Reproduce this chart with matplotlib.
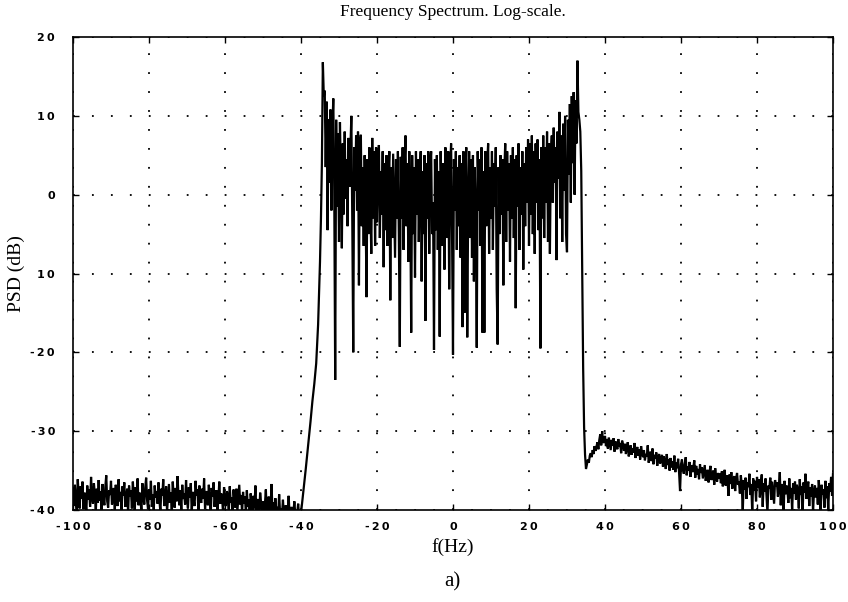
import numpy as np
import matplotlib
matplotlib.use("Agg")
import matplotlib.pyplot as plt

# ---------------- data (dB values) ----------------
STEP = 0.25

floor_left_start = -100.0
floor_left = [
    -37.2,-39.5,-36.8,-38.9,-40.3,-36.1,-38.2,-39.8,-37.0,-38.6,-36.4,-39.9,-37.8,-38.3,-40.5,-36.9,-38.7,-37.4,-39.6,-35.8,
    -38.4,-39.2,-36.6,-38.0,-40.2,-37.3,-39.1,-36.2,-38.8,-37.6,-40.4,-36.7,-38.5,-39.4,-37.1,-35.6,-38.9,-39.7,-37.5,-38.1,
    -36.3,-39.3,-38.6,-37.2,-40.1,-36.8,-38.4,-39.5,-36.1,-38.9,-37.7,-40.3,-37.0,-38.2,-36.5,-39.6,-38.7,-37.3,-40.5,-36.9,
    -38.3,-37.5,-39.8,-36.4,-38.6,-40.2,-37.1,-38.9,-36.0,-39.4,-37.8,-38.5,-40.4,-36.6,-38.1,-39.3,-37.2,-35.9,-38.8,-39.9,
    -37.4,-38.7,-36.3,-39.6,-38.0,-40.1,-36.9,-38.4,-37.6,-39.2,-36.5,-38.8,-40.3,-37.3,-38.2,-36.1,-39.5,-38.6,-37.0,-40.2,
    -38.5,-36.7,-39.1,-37.8,-40.4,-36.4,-38.3,-39.7,-37.2,-38.9,-35.7,-38.1,-39.4,-37.5,-40.0,-36.8,-38.6,-37.9,-39.3,-36.2,
    -38.7,-39.8,-37.1,-38.4,-36.6,-40.3,-37.7,-38.8,-39.5,-36.3,-38.2,-37.4,-40.2,-36.9,-38.5,-39.1,-37.3,-38.6,-36.0,-39.9,
    -38.1,-37.6,-39.4,-36.8,-38.9,-40.4,-37.2,-38.3,-36.5,-39.6,-38.0,-37.5,-40.1,-38.7,-36.4,-39.2,-37.9,-38.6,-40.5,-37.1,
    -38.8,-39.5,-37.6,-38.2,-40.3,-37.0,-39.1,-38.4,-40.6,-37.4,-38.9,-39.7,-37.3,-40.2,-38.5,-36.8,-39.3,-38.1,-40.4,-37.7,
    -39.2,-38.3,-40.5,-37.5,-39.6,-38.7,-40.8,-37.9,-39.0,-40.3,-38.2,-39.8,-36.9,-40.4,-38.6,-39.4,-40.7,-37.8,-39.1,-40.2,
    -38.9,-40.6,-39.3,-37.4,-40.5,-39.7,-38.3,-40.8,-39.5,-36.7,-40.4,-39.0,-40.9,-38.5,-40.3,-39.6,-40.7,-38.0,-40.5,-39.8,
    -40.6,-38.7,-40.8,-40.2,-39.4,-40.9,-40.4,-38.2,-40.7,-40.5,-39.6,-40.8,-40.3,-38.9,-40.6,-40.9,-40.4,-39.2,-40.7,-40.5,
    -40.2,
]

edge_left_f = [-39.75,-39.5,-39.25,-39.0,-38.75,-38.5,-38.25,-38.0,-37.5,-37.0,-36.5,-36.0,-35.5,-35.0,-34.75]
edge_left_db = [-39.3,-38.2,-37.0,-35.9,-34.8,-33.6,-32.4,-31.3,-28.8,-26.2,-24.0,-21.4,-16.5,-8.5,-3.0]

band_start = -34.5
band = [
    4.0,16.8,12.5,13.2,3.5,11.8,-4.5,9.6,1.5,10.8,-2.0,8.4,12.2,0.5,-23.5,9.5,-1.5,7.8,-6.0,9.2,
    2.0,-6.8,6.5,-2.5,8.0,-0.5,4.5,-4.0,7.2,1.0,5.8,10.0,-3.5,-20.0,6.0,0.5,7.5,-2.0,8.0,-11.5,
    6.5,7.6,-4.0,3.5,-6.5,5.0,-2.0,-13.0,4.5,-5.0,6.0,-1.5,-7.5,7.2,-3.0,5.5,-6.5,6.0,-3.5,4.0,
    6.3,-5.5,3.0,-2.5,5.5,-9.2,4.0,-4.5,5.0,-6.5,2.5,5.5,-13.4,3.5,-5.5,5.2,-1.5,-8.0,4.5,-3.0,
    5.5,-5.0,-19.3,4.8,-3.0,6.0,-7.0,3.5,7.5,-4.0,4.0,-8.5,5.5,-1.5,-17.5,5.0,-5.0,3.5,-10.5,5.5,
    -2.5,4.5,-6.0,2.0,5.5,-11.0,3.0,-5.0,5.0,-16.0,4.0,-3.0,5.5,-7.5,3.5,5.5,-5.0,-1.0,-19.7,4.5,
    -4.5,5.0,-7.0,3.0,-18.0,5.5,-2.5,-6.5,4.0,-9.5,6.0,-2.0,-5.5,5.5,-12.0,3.0,6.5,-5.0,-20.3,4.5,
    -2.0,5.5,-7.0,3.5,-4.0,5.0,-8.0,4.0,-16.8,5.5,-15.0,3.0,6.0,-18.1,-1.0,5.5,-5.5,4.5,-8.0,5.0,
    -11.0,3.5,-2.5,-19.4,5.5,-2.0,4.5,-6.5,6.0,-17.5,3.0,-17.5,5.5,-4.0,4.0,6.5,-7.5,3.5,-3.0,5.5,
    -7.0,4.0,-1.5,6.0,-12.0,-19.0,3.5,-5.0,5.0,-2.5,4.5,-11.5,3.0,6.5,-6.0,5.5,-2.0,4.0,-8.5,5.0,
    -3.0,6.0,-5.5,4.5,-14.4,5.0,-1.5,6.5,-7.0,3.5,-2.5,5.5,-9.5,4.0,-4.0,6.0,-1.0,7.0,-6.5,6.5,
    -2.5,7.5,-5.0,5.5,-7.5,6.5,-1.0,7.0,-4.5,4.5,-19.5,6.0,-3.0,7.5,-5.5,6.0,-1.0,8.0,-6.0,6.5,
    -7.5,5.0,7.5,-1.0,8.5,1.5,6.0,-8.3,8.0,2.0,10.5,-3.0,7.5,-6.0,9.0,0.5,10.0,-5.0,-7.3,9.5,
    2.5,11.5,-1.0,12.5,4.0,13.0,0.0,12.0,6.5,17.0,10.5,9.5,8.0,
]

edge_right_f = [33.75,34.0,34.25,34.5,34.75,35.0]
edge_right_db = [3.0,-10.0,-22.0,-29.5,-33.0,-34.8]

tail_start = 35.25
tail = [
    -34.2,-33.6,-34.0,-33.1,-32.8,-33.3,-32.4,-32.9,-31.9,-32.5,-32.0,-31.4,-32.3,-31.1,-30.4,-31.8,-30.0,-31.5,-31.2,-30.6,
    -31.9,-31.0,-32.2,-30.8,-31.6,-32.4,-31.1,-31.8,-30.9,-32.6,-31.3,-31.9,-32.3,-31.0,-32.0,-31.5,-32.8,-31.2,-31.7,-32.5,
    -31.6,-32.9,-32.1,-31.4,-33.2,-32.4,-31.8,-33.0,-32.2,-32.7,-31.5,-33.4,-32.6,-32.0,-33.1,-32.3,-33.6,-31.9,-32.8,-33.3,
    -32.4,-33.7,-32.9,-33.2,-31.8,-34.0,-33.1,-32.6,-33.8,-32.2,-34.2,-33.0,-33.5,-32.7,-34.4,-33.3,-32.9,-34.1,-33.6,-33.0,
    -34.5,-33.2,-33.9,-34.8,-32.9,-34.3,-33.6,-35.0,-33.4,-34.6,-33.8,-34.9,-33.1,-35.2,-34.0,-34.7,-33.5,-35.3,-37.6,-34.2,
    -33.6,-34.9,-35.4,-34.1,-33.3,-35.6,-34.5,-35.0,-33.9,-35.8,-34.3,-35.2,-34.6,-33.7,-35.9,-34.4,-35.5,-34.8,-36.1,-34.2,
    -35.3,-34.6,-36.0,-35.1,-34.3,-36.3,-35.5,-34.9,-36.5,-35.2,-34.4,-36.2,-35.7,-35.0,-36.8,-34.7,-35.9,-36.4,-35.3,-36.0,
    -35.4,-36.6,-35.1,-37.0,-35.8,-34.9,-36.9,-35.6,-36.3,-38.2,-35.5,-36.7,-35.2,-37.3,-36.1,-35.7,-37.6,-36.0,-35.3,-36.8,
    -36.4,-37.9,-35.6,-36.9,-40.3,-36.2,-37.4,-35.9,-38.6,-36.5,-37.1,-35.4,-38.1,-36.7,-40.5,-36.0,-37.5,-36.3,-38.9,-35.8,
    -37.2,-36.1,-38.4,-36.8,-35.5,-39.6,-36.6,-37.7,-36.0,-38.2,-40.4,-36.9,-37.3,-35.9,-38.7,-36.4,-37.8,-39.2,-36.2,-37.0,
    -36.5,-38.3,-37.1,-35.2,-39.4,-36.7,-37.6,-40.6,-36.3,-38.0,-36.9,-37.4,-39.1,-36.0,-38.5,-37.2,-40.2,-36.6,-37.9,-36.4,
    -38.7,-36.8,-37.5,-39.8,-36.1,-38.1,-37.0,-40.5,-36.5,-37.8,-35.4,-38.6,-37.3,-36.4,-39.5,-37.1,-38.3,-36.7,-40.3,-37.6,
    -36.9,-38.4,-37.2,-39.3,-36.2,-37.9,-40.4,-36.8,-38.0,-37.4,-39.7,-36.3,-38.5,-37.0,-40.2,-36.6,-37.7,-35.8,-38.2,-35.4,
]

x_ticks = [-100, -80, -60, -40, -20, 0, 20, 40, 60, 80, 100]
x_ticklabels = ["-100", "-80", "-60", "-40", "-20", "0", "20", "40", "60", "80", "100"]
y_ticks = [-40, -30, -20, -10, 0, 10, 20]
y_ticklabels = ["-40", "-30", "-20", "10", "0", "10", "20"]

title = "Frequency Spectrum. Log-scale."
xlabel = "f(Hz)"
ylabel = "PSD (dB)"
caption = "a)"

# ---------------- assemble series ----------------
def seg(start, vals):
    f = start + STEP * np.arange(len(vals))
    return f, np.asarray(vals, float)

f1, d1 = seg(floor_left_start, floor_left)
f3, d3 = seg(band_start, band)
f5, d5 = seg(tail_start, tail)
freq = np.concatenate([f1, edge_left_f, f3, edge_right_f, f5])
psd = np.concatenate([d1, edge_left_db, d3, edge_right_db, d5])

# ---------------- plot ----------------
fig = plt.figure(figsize=(8.48, 6.02), dpi=100)
ax = fig.add_axes([73/848, 1 - 510/602, (833 - 73)/848, (510 - 37)/602])
ax.plot(freq, psd, color="black", lw=1.6, solid_joinstyle="miter")
ax.set_xlim(-100, 100)
ax.set_ylim(-40, 20)

def spaced(s):
    return "\u2009".join(s)

tick_font = dict(family="DejaVu Sans", weight="bold", size=8)
ax.set_xticks(x_ticks)
ax.set_xticklabels([spaced(s) for s in x_ticklabels], **tick_font)
ax.set_yticks(y_ticks)
ax.set_yticklabels([spaced(s) for s in y_ticklabels], **tick_font)
ax.tick_params(direction="in", length=4, width=1, top=True, right=True)
ax.tick_params(axis="x", pad=9)
ax.tick_params(axis="y", pad=13)

ax.grid(True, color="black", linewidth=1.3, linestyle=(0, (1.0, 9.5)))
for s in ax.spines.values():
    s.set_linewidth(1.2)

serif = ["Liberation Serif", "DejaVu Serif"]
ax.set_title(title, family=serif, size=12.5, pad=15)
ax.set_xlabel(xlabel, family=serif, size=14, labelpad=4)
ax.set_ylabel(ylabel, family=serif, size=14, labelpad=4)
fig.text(0.534, 1 - 582/602, caption, family=serif, size=15, ha="center", va="center")

fig.savefig("out.png", dpi=100, facecolor="white")
